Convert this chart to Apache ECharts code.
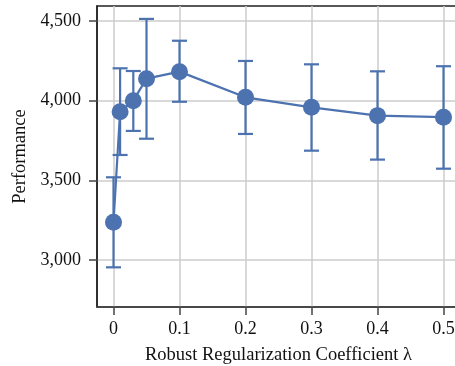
<!DOCTYPE html>
<html>
<head>
<meta charset="utf-8">
<script src="https://cdn.jsdelivr.net/npm/echarts@6/dist/echarts.min.js"></script>
<style>
  html, body { margin: 0; padding: 0; background: #fff; }
  #main { width: 455px; height: 366px; }
</style>
</head>
<body>
<div id="main"></div>
<script>
// lambda values and measured performance (mean, lower/upper whisker)
let lambdas = [0, 0.01, 0.03, 0.05, 0.1, 0.2, 0.3, 0.4, 0.5];
let perf    = [3237, 3931, 4000, 4138, 4182, 4021, 3958, 3906, 3896];
let lower   = [2954, 3659, 3810, 3761, 3993, 3791, 3686, 3630, 3573];
let upper   = [3519, 4203, 4186, 4513, 4376, 4249, 4228, 4184, 4216];
let xTicks  = [0, 0.1, 0.2, 0.3, 0.4, 0.5];
let yTicks  = [3000, 3500, 4000, 4500];

let blue = '#4c72b0';
let font = 'Liberation Serif';

let errData = [];
for (let i = 0; i < lambdas.length; i++) {
    errData.push([lambdas[i], lower[i], upper[i]]);
}
let meanData = lambdas.map((x, i) => [x, perf[i]]);

var myChart = echarts.init(document.getElementById('main'));

var option = {
    animation: false,
    grid: {
        left: 97, top: 6, right: -5, bottom: 59,
        outerBoundsMode: 'none',
        containLabel: false,
        show: true, borderColor: '#222', borderWidth: 1.5
    },
    xAxis: {
        type: 'value',
        min: -0.025,
        max: 0.525,
        name: 'Robust Regularization Coefficient λ',
        nameLocation: 'middle',
        nameGap: 39,
        nameTextStyle: { fontFamily: font, fontSize: 18.5, color: '#111' },
        axisLine: { show: true, onZero: false, lineStyle: { color: '#444', width: 1.5 } },
        axisTick: { show: true, length: 8, customValues: xTicks, lineStyle: { color: '#444', width: 1.5 } },
        axisLabel: {
            customValues: xTicks,
            margin: 13,
            fontFamily: font, fontSize: 18, color: '#111',
            formatter: v => String(v)
        },
        splitLine: { show: true, lineStyle: { color: '#cccccc', width: 1.5 } }
    },
    yAxis: {
        type: 'value',
        min: 2705,
        max: 4594,
        name: 'Performance',
        nameLocation: 'middle',
        nameGap: 66,
        nameRotate: 90,
        nameTextStyle: { fontFamily: font, fontSize: 18.5, color: '#111' },
        axisLine: { show: true, onZero: false, lineStyle: { color: '#222', width: 1.5 } },
        axisTick: { show: true, length: 8, customValues: yTicks, lineStyle: { color: '#444', width: 1.5 } },
        axisLabel: {
            customValues: yTicks,
            margin: 16,
            fontFamily: font, fontSize: 18, color: '#111',
            formatter: v => v.toLocaleString('en-US')
        },
        splitLine: { show: true, lineStyle: { color: '#cccccc', width: 1.5 } }
    },
    series: [
        {
            type: 'custom',
            data: errData,
            z: 3,
            renderItem: function (params, api) {
                let x = api.value(0);
                let top = api.coord([x, api.value(2)]);
                let bot = api.coord([x, api.value(1)]);
                let hw = 7.5;
                let style = { stroke: blue, lineWidth: 2.2 };
                return {
                    type: 'group',
                    children: [
                        { type: 'line', shape: { x1: top[0], y1: top[1], x2: bot[0], y2: bot[1] }, style: style },
                        { type: 'line', shape: { x1: top[0] - hw, y1: top[1], x2: top[0] + hw, y2: top[1] }, style: style },
                        { type: 'line', shape: { x1: bot[0] - hw, y1: bot[1], x2: bot[0] + hw, y2: bot[1] }, style: style }
                    ]
                };
            }
        },
        {
            type: 'line',
            data: meanData,
            z: 4,
            symbol: 'circle',
            symbolSize: 17,
            lineStyle: { color: blue, width: 2.2 },
            itemStyle: { color: blue }
        }
    ]
};
myChart.setOption(option);
</script>
</body>
</html>
